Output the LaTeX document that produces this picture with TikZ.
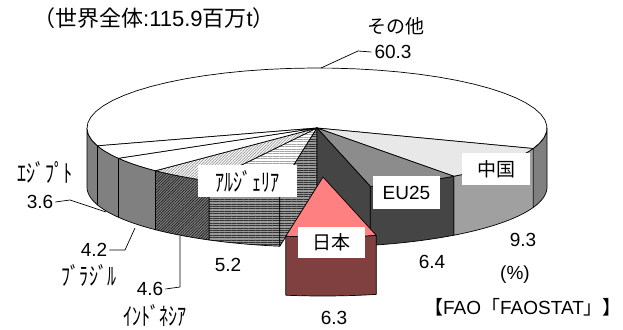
\documentclass[tikz,border=0pt]{standalone}
\usepackage{fontspec}
\setmainfont{Liberation Sans}
\newfontfamily\jp{Noto Sans CJK JP}
\usetikzlibrary{patterns.meta}
\definecolor{sidegray}{HTML}{808080}
\definecolor{chinatop}{HTML}{E8E8E8}
\definecolor{chinaside}{HTML}{A0A0A0}
\definecolor{eutop}{HTML}{8C8C8C}
\definecolor{euside}{HTML}{454545}
\definecolor{jptop}{HTML}{FF8080}
\definecolor{jpside}{HTML}{804040}
\newcommand\pcx{317}
\newcommand\pcy{128}
\newcommand\pra{230}
\newcommand\prb{60}
\newcommand\phh{59}
\newcommand\pieside[3]{\path[#3] plot[domain=#1:#2,samples=24] ({\pcx+\pra*cos(\x)},{\pcy+\prb*sin(\x)}) -- plot[domain=#2:#1,samples=24] ({\pcx+\pra*cos(\x)},{\pcy+\prb*sin(\x)+\phh}) -- cycle;}
\newcommand\pietop[3]{\path[#3] (\pcx,\pcy) -- plot[domain=#1:#2,samples=40] ({\pcx+\pra*cos(\x)},{\pcy+\prb*sin(\x)}) -- cycle;}
\newcommand\piewall[2]{\path[#2] (\pcx,\pcy) -- ({\pcx+\pra*cos(#1)},{\pcy+\prb*sin(#1)}) -- ({\pcx+\pra*cos(#1)},{\pcy+\prb*sin(#1)+\phh}) -- (\pcx,{\pcy+\phh}) -- cycle;}
\newcommand\hk[1]{\scalebox{0.95}[1.3]{\jp #1}}
\begin{document}
\begin{tikzpicture}[x=1pt,y=-1pt,
  face/.style={draw=black, line width=0.7pt, line join=round},
  whitef/.style={face, fill=white},
  grayf/.style={face, fill=sidegray},
  chinat/.style={face, fill=chinatop},
  chinas/.style={face, fill=chinaside},
  eut/.style={face, fill=eutop},
  eus/.style={face, fill=euside},
  algt/.style={face, preaction={fill=white}, pattern={Lines[angle=0,distance=2.4pt,line width=0.8pt]}, pattern color=black!35},
  algs/.style={face, preaction={fill=black!40}, pattern={Lines[angle=0,distance=2.4pt,line width=1pt]}, pattern color=black!80},
  indt/.style={face, preaction={fill=white}, pattern={Lines[angle=45,distance=2pt,line width=0.7pt]}, pattern color=black!40},
  inds/.style={face, preaction={fill=black!50}, pattern={Lines[angle=45,distance=2pt,line width=0.8pt]}, pattern color=black!85},
  jpt/.style={face, fill=jptop},
  jps/.style={face, fill=jpside},
  txt/.style={font=\fontsize{19}{22}\selectfont, inner sep=0pt},
  lblbox/.style={txt, fill=white, minimum height=32pt},
  lead/.style={draw=black, line width=0.7pt}]
\fill[white] (0,0) rectangle (623,329);
\useasboundingbox (0,0) rectangle (623,329);
% side faces
\pieside{0}{20}{grayf}
\pieside{20}{53.5}{chinas}
\pieside{53.5}{76.6}{eus}
\pieside{99.3}{118}{algs}
\pieside{118}{134.6}{inds}
\pieside{134.6}{149.7}{grayf}
\pieside{149.7}{162.7}{grayf}
\pieside{162.7}{180}{grayf}
% top faces
\pietop{162.7}{380}{whitef}
\pietop{20}{53.5}{chinat}
\pietop{53.5}{76.6}{eut}
\pietop{99.3}{118}{algt}
\pietop{118}{134.6}{indt}
\pietop{134.6}{149.7}{whitef}
\pietop{149.7}{162.7}{whitef}
% inner walls exposed by the exploded slice
\piewall{99.3}{algs}
\piewall{76.6}{eus}
% exploded slice (Japan)
\begin{scope}[shift={(6,49)}]
\pieside{76.6}{99.3}{jps}
\pietop{76.6}{99.3}{jpt}
\end{scope}
% labels
\node[txt, font=\fontsize{22}{24}\selectfont] (title) at (154,18) {{\jp（世界全体}:115.9{\jp 百万}t{\jp ）}};
\node[txt] (sonota) at (396,26) {\jp その他};
\node[txt] (v603) at (393,52) {60.3};
\node[lblbox, minimum width=68pt] (bchina) at (496,169) {\jp 中国};
\node[lblbox, minimum width=67pt, minimum height=33pt] (beu) at (406.5,192.5) {EU25};
\node[lblbox, minimum width=99pt] (balg) at (247.5,181) {\hk{ｱﾙｼﾞｪﾘｱ}};
\node[lblbox, minimum width=67pt, minimum height=31pt] (bjp) at (331.5,242.5) {\jp 日本};
\node[txt] (v93) at (523,240) {9.3};
\node[txt] (v64) at (432,262) {6.4};
\node[txt] (pct) at (515,275) {(\%)};
\node[txt] (src) at (523,307) {{\jp 【}FAO{\jp 「}FAOSTAT{\jp 」】}};
\node[txt] (v63) at (334,318) {6.3};
\node[txt] (v52) at (228,265) {5.2};
\node[txt] (v46) at (150,289) {4.6};
\node[txt] (lind) at (155,316) {\hk{ｲﾝﾄﾞﾈｼｱ}};
\node[txt] (v42) at (94,250) {4.2};
\node[txt] (lbra) at (89,275) {\hk{ﾌﾞﾗｼﾞﾙ}};
\node[txt] (v36) at (40,202) {3.6};
\node[txt] (legy) at (45,172) {\hk{ｴｼﾞﾌﾟﾄ}};
% leader lines
\coordinate (k603) at (358,51);
\coordinate (e603) at (321,68);
\draw[lead] ([xshift=-3pt]v603.west) -- (k603) -- (e603);
\coordinate (k46) at (180,287);
\coordinate (e46) at (180,236);
\draw[lead] ([xshift=2pt]v46.east) -- (k46) -- (e46);
\coordinate (k42) at (125,250);
\coordinate (e42) at (135,228);
\draw[lead] ([xshift=2pt]v42.east) -- (k42) -- (e42);
\coordinate (k36) at (70,200);
\coordinate (e36) at (106,212);
\draw[lead] ([xshift=2pt]v36.east) -- (k36) -- (e36);
\end{tikzpicture}
\end{document}
